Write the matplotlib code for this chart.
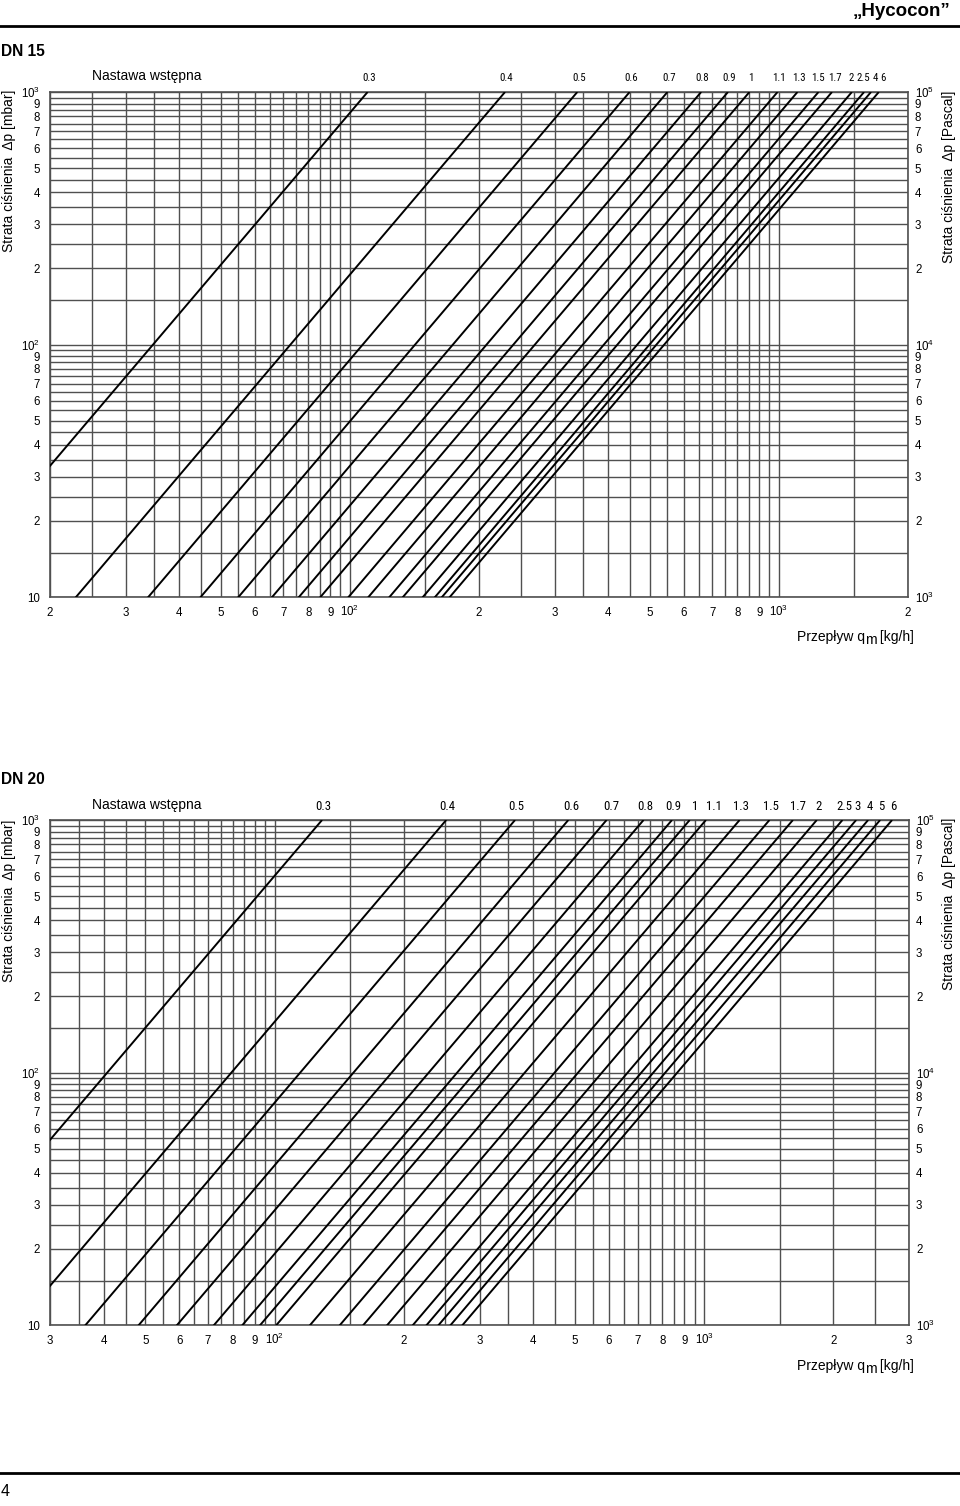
import os
import numpy as np
import matplotlib
matplotlib.use("Agg")
import matplotlib.pyplot as plt
from matplotlib import font_manager
from matplotlib.font_manager import FontProperties
from matplotlib.lines import Line2D
from matplotlib.ticker import NullFormatter, NullLocator

plt.rcParams['font.family'] = ['Liberation Sans', 'DejaVu Sans']
plt.rcParams['mathtext.fontset'] = 'custom'
plt.rcParams['mathtext.rm'] = 'Liberation Sans'
plt.rcParams['mathtext.it'] = 'Liberation Sans:italic'
plt.rcParams['mathtext.bf'] = 'Liberation Sans:bold'

# ---------------- data ----------------
# presetting labels ("Nastawa wstępna") and kv [m3/h]
dn15_presets = ["0.3", "0.4", "0.5", "0.6", "0.7", "0.8", "0.9", "1", "1.1",
                "1.3", "1.5", "1.7", "2", "2.5", "4", "6"]
dn15_kv = [0.110, 0.230, 0.339, 0.449, 0.550, 0.659, 0.761, 0.854, 0.993,
           1.105, 1.237, 1.33, 1.48, 1.58, 1.64, 1.71]

dn20_presets = ["0.3", "0.4", "0.5", "0.6", "0.7", "0.8", "0.9", "1", "1.1",
                "1.3", "1.5", "1.7", "2", "2.5", "3", "4", "5", "6"]
dn20_kv = [0.129, 0.251, 0.363, 0.483, 0.593, 0.723, 0.842, 0.926, 1.01,
           1.21, 1.42, 1.61, 1.83, 2.10, 2.26, 2.41, 2.57, 2.74]

dn15_xlim = (20, 2000)
dn20_xlim = (30, 3000)
dp_lim = (10, 1000)

dn15_xticks = [20, 30, 40, 50, 60, 70, 80, 90, 100, 200, 300, 400, 500, 600,
               700, 800, 900, 1000, 2000]
dn15_xlabels = ["2", "3", "4", "5", "6", "7", "8", "9", "10$^{2}$", "2", "3", "4",
                "5", "6", "7", "8", "9", "10$^{3}$", "2"]
dn20_xticks = [30, 40, 50, 60, 70, 80, 90, 100, 200, 300, 400, 500, 600,
               700, 800, 900, 1000, 2000, 3000]
dn20_xlabels = ["3", "4", "5", "6", "7", "8", "9", "10$^{2}$", "2", "3", "4",
                "5", "6", "7", "8", "9", "10$^{3}$", "2", "3"]

y_ticks = [10, 20, 30, 40, 50, 60, 70, 80, 90, 100, 200, 300, 400, 500, 600,
           700, 800, 900, 1000]
y_labels_mbar = ["10", "2", "3", "4", "5", "6", "7", "8", "9", "10$^{2}$", "2", "3",
                 "4", "5", "6", "7", "8", "9", "10$^{3}$"]
y_labels_pa = ["10$^{3}$", "2", "3", "4", "5", "6", "7", "8", "9", "10$^{4}$", "2",
               "3", "4", "5", "6", "7", "8", "9", "10$^{5}$"]

# ---------------- layout / style ----------------
W, H = 960, 1506
fig = plt.figure(figsize=(W / 100, H / 100), dpi=100)

# small horizontal nudges (px) for crowded preset labels
dn15_nudge = {"1.5": -2.0, "1.7": 1.0, "2": -2.5, "2.5": -2.0, "4": 3.0, "6": 2.5}
dn20_nudge = {"0.7": 3.0, "1": 4.0, "1.1": 7.0, "1.7": 4.0, "0.6": 1.0}

# look for a condensed font file for the preset labels
cond_file = None
prefs = ['liberationsansnarrow-regular', 'robotocondensed-regular',
         'dejavusanscondensed.ttf', 'opensans_condensed-regular',
         'opensanscondensed', 'notosans-condensed', 'condensed', 'narrow']
files = [f.fname for f in font_manager.fontManager.ttflist]
for p in prefs:
    for fn in files:
        b = os.path.basename(fn).lower()
        if p in b and 'bold' not in b and 'italic' not in b and 'oblique' not in b \
                and 'light' not in b and 'medium' not in b and 'thin' not in b \
                and 'black' not in b and 'mono' not in b and 'serif' not in b:
            cond_file = fn
            break
    if cond_file:
        break


def label_props(size):
    if cond_file:
        fp = FontProperties(fname=cond_file, size=size)
    else:
        fp = FontProperties(family='Liberation Sans', size=size * 0.85)
    return fp


fp15 = label_props(7.8)
fp20 = label_props(9.2)

GRID = '#505050'


def rect(l, t, r, b):
    return [l / W, 1 - b / H, (r - l) / W, (b - t) / H]


def half_steps(lo, hi):
    vals = []
    d = 1.0
    while d <= hi:
        for v in np.arange(d, 10 * d + 1e-9, d / 2):
            if lo - 1e-9 <= v <= hi + 1e-9:
                vals.append(v)
        d *= 10
    return sorted(set(vals))


def panel(r, xlim, presets, kv, xticks, xlabels, lab_off, fp, nudge):
    ax = fig.add_axes(r)
    ax.set_xscale('log')
    ax.set_yscale('log')
    ax.set_xlim(*xlim)
    ax.set_ylim(*dp_lim)
    ax.set_xticks(half_steps(*xlim), minor=True)
    ax.set_yticks(half_steps(*dp_lim), minor=True)
    ax.set_xticks(xticks, xlabels)
    ax.set_yticks(y_ticks, y_labels_mbar)
    ax.xaxis.set_minor_formatter(NullFormatter())
    ax.yaxis.set_minor_formatter(NullFormatter())
    ax.grid(which='both', color=GRID, lw=1.0)
    ax.set_axisbelow(True)
    ax.tick_params(which='both', length=0, labelsize=8.3)
    ax.tick_params(axis='x', pad=13.5)
    ax.tick_params(axis='y', pad=7)
    for t in ax.get_xticklabels():
        t.set_va('baseline')
    for t in ax.get_yticklabels():
        t.set_va('center_baseline')
    for s in ax.spines.values():
        s.set_color(GRID)
        s.set_linewidth(1.2)
    dp_end = np.array([1.0, 1000.0])
    for lab, k in zip(presets, kv):
        q = 1000.0 * k * np.sqrt(dp_end / 1000.0)
        ax.plot(q, dp_end, color='black', lw=1.4, solid_capstyle='butt', zorder=3)
        dx = (1.5 + nudge.get(lab, 0.0)) * 0.72
        ax.annotate(lab, xy=(1000.0 * k, 1000.0), xytext=(dx, lab_off),
                    textcoords='offset points', ha='center', va='center',
                    fontproperties=fp, annotation_clip=False)
    ax.annotate("Nastawa wstępna", xy=(42 / (r[2] * W), 1.0), xycoords='axes fraction',
                xytext=(0, lab_off + 1.5), textcoords='offset points',
                ha='left', va='center', fontsize=10)
    axr = ax.twinx()
    axr.set_yscale('log')
    axr.set_ylim(*dp_lim)
    axr.set_yticks(y_ticks, y_labels_pa)
    axr.yaxis.set_minor_locator(NullLocator())
    axr.tick_params(length=0, labelsize=8.3, pad=5)
    for t in axr.get_yticklabels():
        t.set_va('center_baseline')
    for s in axr.spines.values():
        s.set_visible(False)
    return ax


ax1 = panel(rect(50, 92, 908, 597), dn15_xlim, dn15_presets, dn15_kv,
            dn15_xticks, dn15_xlabels, 10.0, fp15, dn15_nudge)
ax2 = panel(rect(50, 820, 909, 1325), dn20_xlim, dn20_presets, dn20_kv,
            dn20_xticks, dn20_xlabels, 9.5, fp20, dn20_nudge)


def fy(y):
    return 1 - y / H


# header / footer
fig.text(950 / W, fy(12), "\u201eHycocon\u201d", ha='right', va='center',
         fontsize=13.5, fontweight='bold')
fig.add_artist(Line2D([0, 1], [fy(26), fy(26)], color='black', lw=2.0,
                      transform=fig.transFigure))
fig.add_artist(Line2D([0, 1], [fy(1473), fy(1473)], color='black', lw=2.0,
                      transform=fig.transFigure))
fig.text(1 / W, fy(1491), "4", ha='left', va='center', fontsize=11.5)

for title, ytitle in [("DN 15", 51), ("DN 20", 779)]:
    fig.text(1 / W, fy(ytitle), title, ha='left', va='center', fontsize=11.2,
             fontweight='bold')

for yc_l, yc_r in [(171, 177), (901, 904)]:
    fig.text(9 / W, fy(yc_l), "Strata ciśnienia  Δp [mbar]", rotation=90,
             ha='center', va='center', fontsize=10)
    fig.text(949 / W, fy(yc_r), "Strata ciśnienia  Δp [Pascal]", rotation=90,
             ha='center', va='center', fontsize=10)

for ybase, ax in [(641, ax1), (1370, ax2)]:
    t1 = fig.text(797 / W, fy(ybase), "Przepływ q", ha='left', va='baseline',
                  fontsize=10)
    t2 = ax.annotate("m", xy=(1, 0), xycoords=t1, xytext=(-0.2, -2.4),
                     textcoords='offset points', ha='left', va='bottom',
                     fontsize=10, annotation_clip=False)
    ax.annotate(" [kg/h]", xy=(1, 0), xycoords=t2, xytext=(-0.6, 2.4),
                textcoords='offset points', ha='left', va='bottom',
                fontsize=10, annotation_clip=False)

fig.savefig("out.png", dpi=100)
